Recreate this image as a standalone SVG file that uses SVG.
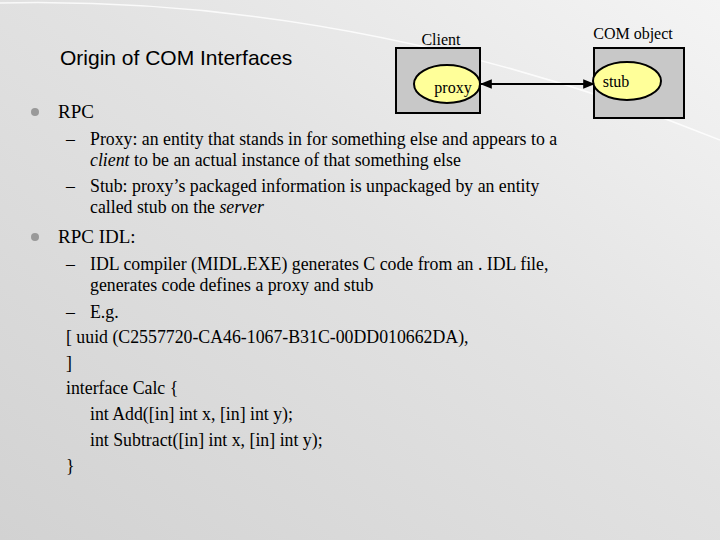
<svg xmlns="http://www.w3.org/2000/svg" width="720" height="540" viewBox="0 0 720 540">
<defs>
<linearGradient id="bg" x1="0" y1="1" x2="1" y2="0">
<stop offset="0" stop-color="#d2d2d2"/><stop offset="0.55" stop-color="#e2e2e2"/><stop offset="1" stop-color="#f4f4f4"/>
</linearGradient>
<marker id="ah" viewBox="0 0 10 10" refX="9" refY="5" markerWidth="6" markerHeight="6" orient="auto-start-reverse"><path d="M0,1 L10,5 L0,9 z" fill="#000"/></marker>
</defs>
<style>
.t{font-size:17.8px}
.b{font-size:19px}
.s{font-size:16px}
.box{fill:#c8c8c8;stroke:#000;stroke-width:2}
.el{fill:#ffff99;stroke:#000;stroke-width:2}
</style>
<rect width="720" height="540" fill="url(#bg)"/>
<path d="M0,3 Q360,-5 720,140" fill="none" stroke="#fff" stroke-width="1.5" opacity="0.8"/>
<text x="60" y="65" font-family="Liberation Sans, sans-serif" font-size="21" fill="#000">Origin of COM Interfaces</text>
<g font-family="Liberation Serif, serif" fill="#000">
<g id="client"><text class="s" x="441" y="45" text-anchor="middle">Client</text><rect class="box" x="396" y="48" width="84" height="65"/></g>
<g id="proxy"><ellipse class="el" cx="447" cy="84" rx="33" ry="19"/><text class="s" x="453" y="93" text-anchor="middle">proxy</text></g>
<g id="comobject"><text class="s" x="633" y="39" text-anchor="middle">COM object</text><rect class="box" x="594" y="48" width="90" height="70"/></g>
<g id="stub"><ellipse class="el" cx="627" cy="81" rx="34" ry="19"/><text class="s" x="616" y="87" text-anchor="middle">stub</text></g>
<g id="connectors"><line x1="481" y1="84" x2="594" y2="84" stroke="#000" stroke-width="2" marker-start="url(#ah)" marker-end="url(#ah)"/></g>
<g fill="#999"><circle cx="35" cy="112" r="4"/><circle cx="35" cy="237" r="4"/></g>
<text class="b" x="58" y="118">RPC</text>
<text class="t" x="66" y="145">–</text><text class="t" x="90" y="145">Proxy: an entity that stands in for something else and appears to a</text>
<text class="t" x="90" y="166"><tspan font-style="italic">client</tspan> to be an actual instance of that something else</text>
<text class="t" x="66" y="192">–</text><text class="t" x="90" y="192">Stub: proxy’s packaged information is unpackaged by an entity</text>
<text class="t" x="90" y="213">called stub on the <tspan font-style="italic">server</tspan></text>
<text class="b" x="58" y="243">RPC IDL:</text>
<text class="t" x="66" y="270">–</text><text class="t" x="90" y="270">IDL compiler (MIDL.EXE) generates C code from an . IDL file,</text>
<text class="t" x="90" y="291">generates code defines a proxy and stub</text>
<text class="t" x="66" y="318">–</text><text class="t" x="90" y="318">E.g.</text>
<text class="t" x="66" y="343">[ uuid (C2557720-CA46-1067-B31C-00DD010662DA),</text>
<text class="t" x="66" y="369">]</text>
<text class="t" x="66" y="394">interface Calc {</text>
<text class="t" x="90" y="420">int Add([in] int x, [in] int y);</text>
<text class="t" x="90" y="446">int Subtract([in] int x, [in] int y);</text>
<text class="t" x="66" y="472">}</text>
</g>
</svg>
